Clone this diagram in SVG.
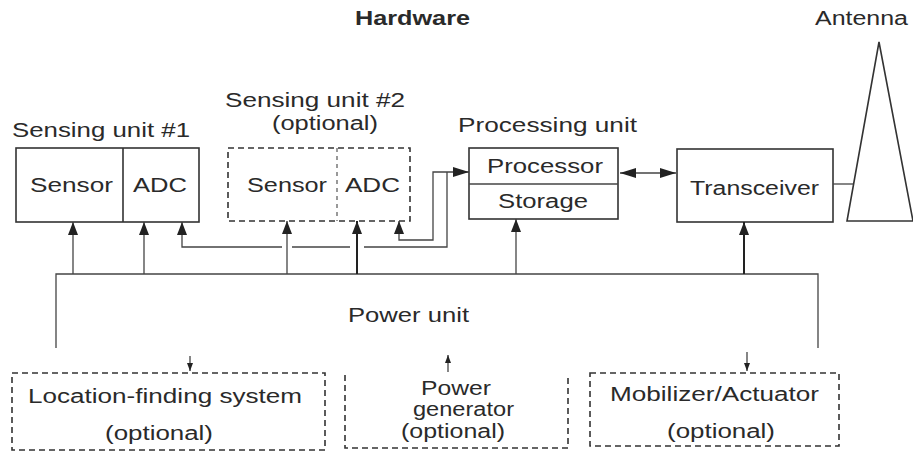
<svg xmlns="http://www.w3.org/2000/svg" width="913" height="454" viewBox="0 0 913 454">
<defs>
<style>
text{font-family:"Liberation Sans",Arial,sans-serif;font-size:20px;fill:#2a2a2a}
.b{font-weight:bold}
.box{fill:none;stroke:#333;stroke-width:1.6}
.dash{fill:none;stroke:#333;stroke-width:1.6;stroke-dasharray:6 4}
.dash2{fill:none;stroke:#555;stroke-width:1.2;stroke-dasharray:4 4}
.ln{fill:none;stroke:#444;stroke-width:1.3}
.thk{fill:none;stroke:#222;stroke-width:2}
</style>
<marker id="ah" viewBox="0 0 13 10" refX="13" refY="5" markerWidth="13" markerHeight="10" markerUnits="userSpaceOnUse" orient="auto-start-reverse">
<path d="M0,0 L13,5 L0,10 Z" fill="#222"/>
</marker>
<marker id="ar" viewBox="0 0 16 10" refX="16" refY="5" markerWidth="16" markerHeight="10" markerUnits="userSpaceOnUse" orient="auto-start-reverse">
<path d="M0,0 L16,5 L0,10 Z" fill="#222"/>
</marker>
<marker id="sm" viewBox="0 0 8 6" refX="8" refY="3" markerWidth="8" markerHeight="6" markerUnits="userSpaceOnUse" orient="auto">
<path d="M0,0 L8,3 L0,6 Z" fill="#222"/>
</marker>
</defs>
<text class="b" x="355" y="25" textLength="115" lengthAdjust="spacingAndGlyphs">Hardware</text>
<g id="antenna">
<text x="815" y="25" textLength="93" lengthAdjust="spacingAndGlyphs">Antenna</text>
<path class="box" d="M879,42 L847,221 L913,221 Z"/>
</g>
<g id="sensing1">
<text x="12" y="137" textLength="178" lengthAdjust="spacingAndGlyphs">Sensing unit #1</text>
<rect class="box" x="16" y="148" width="183" height="74"/>
<line class="box" x1="123" y1="148" x2="123" y2="222"/>
<text x="30" y="192" textLength="83" lengthAdjust="spacingAndGlyphs">Sensor</text>
<text x="133" y="192" textLength="54" lengthAdjust="spacingAndGlyphs">ADC</text>
</g>
<g id="sensing2">
<text x="225" y="107" textLength="180" lengthAdjust="spacingAndGlyphs">Sensing unit #2</text>
<text x="272" y="130" textLength="106" lengthAdjust="spacingAndGlyphs">(optional)</text>
<rect class="dash" x="228" y="148" width="182" height="73"/>
<line class="dash2" x1="337" y1="148" x2="337" y2="221"/>
<text x="247" y="192" textLength="80" lengthAdjust="spacingAndGlyphs">Sensor</text>
<text x="345" y="192" textLength="55" lengthAdjust="spacingAndGlyphs">ADC</text>
</g>
<g id="processing">
<text x="458" y="132" textLength="179" lengthAdjust="spacingAndGlyphs">Processing unit</text>
<rect class="box" x="469" y="148" width="149" height="71"/>
<line class="ln" x1="469" y1="184" x2="618" y2="184"/>
<text x="487" y="173" textLength="116" lengthAdjust="spacingAndGlyphs">Processor</text>
<text x="498" y="208" textLength="90" lengthAdjust="spacingAndGlyphs">Storage</text>
</g>
<g id="transceiver">
<rect class="box" x="677" y="149" width="156" height="73"/>
<text x="690" y="195" textLength="129" lengthAdjust="spacingAndGlyphs">Transceiver</text>
</g>
<g id="power">
<text x="348" y="322" font-size="21" textLength="121" lengthAdjust="spacingAndGlyphs">Power unit</text>
</g>
<g id="location">
<path class="dash" d="M12,373 H325 V450 H12 Z"/>
<text x="28" y="403" textLength="274" lengthAdjust="spacingAndGlyphs">Location-finding system</text>
<text x="105" y="440" textLength="108" lengthAdjust="spacingAndGlyphs">(optional)</text>
</g>
<g id="generator">
<path class="dash" d="M345,375 V448 H568 V375"/>
<text x="421" y="395" textLength="70" lengthAdjust="spacingAndGlyphs">Power</text>
<text x="413" y="416" textLength="101" lengthAdjust="spacingAndGlyphs">generator</text>
<text x="401" y="438" textLength="104" lengthAdjust="spacingAndGlyphs">(optional)</text>
</g>
<g id="mobilizer">
<rect class="dash" x="590" y="373" width="249" height="73"/>
<text x="610" y="401" textLength="209" lengthAdjust="spacingAndGlyphs">Mobilizer/Actuator</text>
<text x="667" y="438" textLength="108" lengthAdjust="spacingAndGlyphs">(optional)</text>
</g>
<g id="connectors">
<path class="ln" d="M56,348 V274 H818 V348"/>
<line class="ln" x1="73" y1="274" x2="73" y2="222" marker-end="url(#ah)"/>
<line class="ln" x1="144" y1="274" x2="144" y2="222" marker-end="url(#ah)"/>
<line class="ln" x1="287" y1="274" x2="287" y2="221" marker-end="url(#ah)"/>
<line class="thk" x1="357" y1="274" x2="357" y2="221" marker-end="url(#ah)"/>
<line class="ln" x1="516" y1="274" x2="516" y2="219" marker-end="url(#ah)"/>
<line class="thk" x1="744" y1="274" x2="744" y2="222" marker-end="url(#ah)"/>
<path class="ln" d="M182,222 V247 H282" marker-start="url(#ah)"/>
<path class="ln" d="M292,247 H350"/>
<path class="ln" d="M364,247 H447 V172"/>
<path class="ln" d="M399,221 V240 H433 V172 H469" marker-start="url(#ah)" marker-end="url(#ar)"/>
<line class="ln" x1="620" y1="173" x2="676" y2="173" marker-start="url(#ar)" marker-end="url(#ar)"/>
<line class="ln" x1="833" y1="184" x2="853" y2="184"/>
<line class="ln" x1="190" y1="356" x2="190" y2="371" marker-end="url(#sm)"/>
<line class="ln" x1="448" y1="372" x2="448" y2="355" marker-end="url(#sm)"/>
<line class="ln" x1="747" y1="352" x2="747" y2="371" marker-end="url(#sm)"/>
</g>
</svg>
